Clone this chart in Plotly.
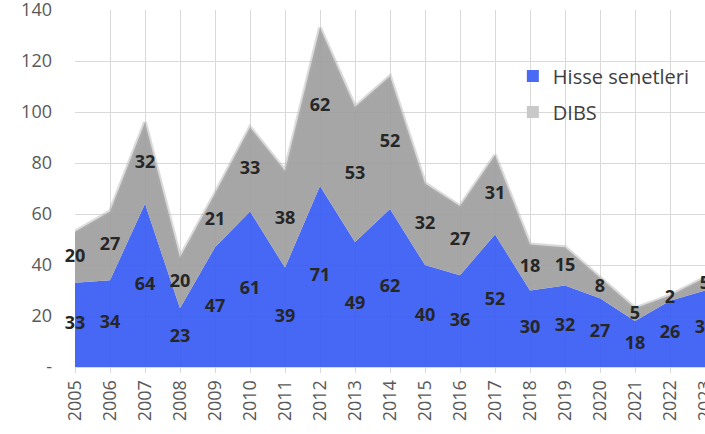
import plotly.graph_objects as go

years = list(range(2005, 2024))
hisse = [33, 34, 64, 23, 47, 61, 39, 71, 49, 62, 40, 36, 52, 30, 32, 27, 18, 26, 30]
dibs = [20, 27, 32, 20, 21, 33, 38, 62, 53, 52, 32, 27, 31, 18, 15, 8, 5, 2, 5]
y_ticks = [0, 20, 40, 60, 80, 100, 120, 140]
y_ticktext = ["-", "20", "40", "60", "80", "100", "120", "140"]

BLUE = "rgba(54,91,244,0.92)"
GRAY = "rgba(156,156,156,0.9)"
FONT = "Open Sans"

fig = go.Figure()
fig.add_trace(go.Scatter(x=years, y=hisse, stackgroup="one", mode="none",
                         fillcolor=BLUE, showlegend=False, hoverinfo="skip"))
fig.add_trace(go.Scatter(x=years, y=dibs, stackgroup="one", mode="lines",
                         line=dict(color="rgba(175,175,175,0.45)", width=4),
                         fillcolor=GRAY, showlegend=False, hoverinfo="skip"))

# labels at segment midpoints
mid_h = [h / 2 for h in hisse]
mid_d = [h + d / 2 for h, d in zip(hisse, dibs)]
lab_font = dict(family=FONT, size=18, color="#262626", weight="bold")
fig.add_trace(go.Scatter(x=years, y=mid_h, mode="text", text=[str(v) for v in hisse],
                         textfont=lab_font, showlegend=False, cliponaxis=False, hoverinfo="skip"))
fig.add_trace(go.Scatter(x=years, y=mid_d, mode="text", text=[str(v) for v in dibs],
                         textfont=lab_font, showlegend=False, cliponaxis=False, hoverinfo="skip"))

# legend entries
fig.add_trace(go.Scatter(x=[None], y=[None], mode="markers", name="Hisse senetleri",
                         marker=dict(symbol="square", size=13, color="#4a6af5"), legendgroup="a"))
fig.add_trace(go.Scatter(x=[None], y=[None], mode="markers", name="DIBS",
                         marker=dict(symbol="square", size=13, color="#c9c9c9"), legendgroup="b"))

fig.update_layout(
    width=705, height=434,
    margin=dict(l=75, r=0, t=10, b=67, autoexpand=False),
    paper_bgcolor="white", plot_bgcolor="white",
    font=dict(family=FONT, size=18, color="#595959"),
    legend=dict(x=0.695, y=0.87, xanchor="left", yanchor="top",
                bgcolor="rgba(0,0,0,0)", font=dict(size=20, color="#404040"),
                tracegroupgap=7, itemsizing="constant"),
    xaxis=dict(range=[2005, 2023], tickvals=years, ticktext=[str(y) for y in years],
               tickangle=-90, showgrid=True, gridcolor="#d9d9d9", gridwidth=1,
               showline=True, linecolor="#d9d9d9", linewidth=1,
               ticks="outside", ticklen=5, tickcolor="#d9d9d9", zeroline=False,
               ticklabeloverflow="allow", automargin=False,
               tickfont=dict(size=18, color="#595959")),
    yaxis=dict(range=[0, 140], tickvals=y_ticks, ticktext=y_ticktext,
               showgrid=True, gridcolor="#d9d9d9", gridwidth=1, zeroline=False,
               ticks="", ticklabelstandoff=22, ticklabeloverflow="allow", automargin=False,
               tickfont=dict(size=18, color="#595959")),
)

fig.write_html("out.html", config={"displayModeBar": False},
               post_script="document.body.style.margin='0';document.body.style.overflow='hidden';")
